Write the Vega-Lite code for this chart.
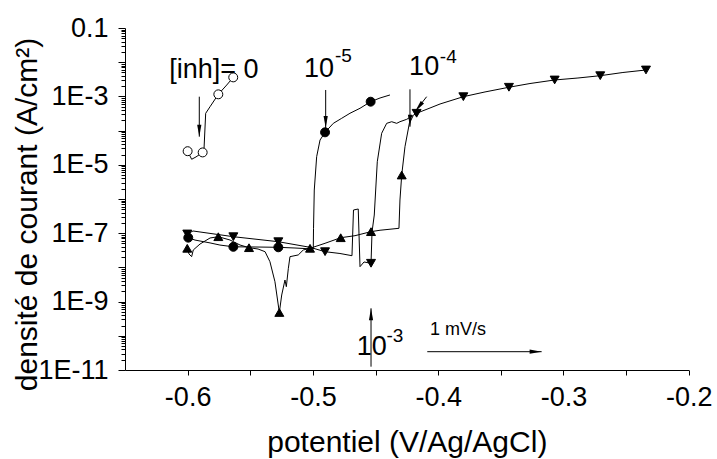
{
  "$schema": "https://vega.github.io/schema/vega-lite/v6.json",
  "width": 563.7,
  "height": 342,
  "autosize": {"type": "none"},
  "padding": {"left": 125, "top": 28, "right": 28.3, "bottom": 89},
  "config": {
    "view": {"stroke": null},
    "font": "Liberation Sans",
    "axis": {"grid": false, "domainColor": "black", "tickColor": "black", "labelColor": "black", "titleColor": "black", "labelFont": "Liberation Sans", "titleFont": "Liberation Sans", "titleFontWeight": "normal", "domainWidth": 1, "tickWidth": 1}
  },
  "datasets": {
    "curves": [
      {"s": "0", "i": 1, "x": -0.6, "y": 2.5e-5, "m": 1},
      {"s": "0", "i": 2, "x": -0.5968, "y": 1.45e-5, "m": 0},
      {"s": "0", "i": 3, "x": -0.5933, "y": 1.7e-5, "m": 0},
      {"s": "0", "i": 4, "x": -0.588, "y": 2.3e-5, "m": 1},
      {"s": "0", "i": 5, "x": -0.5869, "y": 3.0e-5, "m": 0},
      {"s": "0", "i": 6, "x": -0.5856, "y": 3.2e-4, "m": 0},
      {"s": "0", "i": 7, "x": -0.5821, "y": 5.0e-4, "m": 0},
      {"s": "0", "i": 8, "x": -0.5755, "y": 1.15e-3, "m": 1},
      {"s": "0", "i": 9, "x": -0.5688, "y": 2.15e-3, "m": 0},
      {"s": "0", "i": 10, "x": -0.5636, "y": 3.6e-3, "m": 1},

      {"s": "1e-5", "i": 1, "x": -0.5995, "y": 7.4e-8, "m": 1},
      {"s": "1e-5", "i": 2, "x": -0.5941, "y": 6.3e-8, "m": 0},
      {"s": "1e-5", "i": 3, "x": -0.5821, "y": 5.2e-8, "m": 0},
      {"s": "1e-5", "i": 4, "x": -0.5742, "y": 4.5e-8, "m": 0},
      {"s": "1e-5", "i": 5, "x": -0.5635, "y": 4.0e-8, "m": 1},
      {"s": "1e-5", "i": 6, "x": -0.5462, "y": 3.95e-8, "m": 0},
      {"s": "1e-5", "i": 7, "x": -0.5276, "y": 3.87e-8, "m": 1},
      {"s": "1e-5", "i": 8, "x": -0.5143, "y": 3.69e-8, "m": 0},
      {"s": "1e-5", "i": 9, "x": -0.4997, "y": 3.45e-8, "m": 0},
      {"s": "1e-5", "i": 10, "x": -0.4995, "y": 1.39e-7, "m": 0},
      {"s": "1e-5", "i": 11, "x": -0.4989, "y": 1.83e-6, "m": 0},
      {"s": "1e-5", "i": 12, "x": -0.497, "y": 1.73e-5, "m": 0},
      {"s": "1e-5", "i": 13, "x": -0.4943, "y": 5.3e-5, "m": 0},
      {"s": "1e-5", "i": 14, "x": -0.4903, "y": 8.9e-5, "m": 1},
      {"s": "1e-5", "i": 15, "x": -0.4837, "y": 1.63e-4, "m": 0},
      {"s": "1e-5", "i": 16, "x": -0.477, "y": 2.29e-4, "m": 0},
      {"s": "1e-5", "i": 17, "x": -0.4704, "y": 3.21e-4, "m": 0},
      {"s": "1e-5", "i": 18, "x": -0.4624, "y": 4.49e-4, "m": 0},
      {"s": "1e-5", "i": 19, "x": -0.4539, "y": 7.0e-4, "m": 1},
      {"s": "1e-5", "i": 20, "x": -0.4464, "y": 8.98e-4, "m": 0},
      {"s": "1e-5", "i": 21, "x": -0.4385, "y": 1.1e-3, "m": 0},

      {"s": "1e-4", "i": 1, "x": -0.6003, "y": 9.5e-8, "m": 1},
      {"s": "1e-4", "i": 2, "x": -0.5957, "y": 1.16e-7, "m": 0},
      {"s": "1e-4", "i": 3, "x": -0.5635, "y": 7.9e-8, "m": 1},
      {"s": "1e-4", "i": 4, "x": -0.5276, "y": 5.64e-8, "m": 1},
      {"s": "1e-4", "i": 5, "x": -0.5023, "y": 3.87e-8, "m": 0},
      {"s": "1e-4", "i": 6, "x": -0.4903, "y": 2.88e-8, "m": 1},
      {"s": "1e-4", "i": 7, "x": -0.4784, "y": 2.55e-8, "m": 0},
      {"s": "1e-4", "i": 8, "x": -0.4688, "y": 2.2e-8, "m": 0},
      {"s": "1e-4", "i": 9, "x": -0.4676, "y": 4.77e-7, "m": 0},
      {"s": "1e-4", "i": 10, "x": -0.4638, "y": 5.1e-7, "m": 0},
      {"s": "1e-4", "i": 11, "x": -0.4624, "y": 1.05e-8, "m": 0},
      {"s": "1e-4", "i": 12, "x": -0.4592, "y": 1.44e-8, "m": 0},
      {"s": "1e-4", "i": 13, "x": -0.4536, "y": 1.32e-8, "m": 1},
      {"s": "1e-4", "i": 14, "x": -0.4528, "y": 1.08e-7, "m": 0},
      {"s": "1e-4", "i": 15, "x": -0.451, "y": 3.4e-7, "m": 0},
      {"s": "1e-4", "i": 16, "x": -0.4486, "y": 1.23e-5, "m": 0},
      {"s": "1e-4", "i": 17, "x": -0.4451, "y": 8.34e-5, "m": 0},
      {"s": "1e-4", "i": 18, "x": -0.4411, "y": 1.63e-4, "m": 0},
      {"s": "1e-4", "i": 19, "x": -0.4371, "y": 1.82e-4, "m": 0},
      {"s": "1e-4", "i": 20, "x": -0.4331, "y": 1.63e-4, "m": 0},
      {"s": "1e-4", "i": 21, "x": -0.4305, "y": 1.82e-4, "m": 0},
      {"s": "1e-4", "i": 22, "x": -0.4251, "y": 2.14e-4, "m": 0},
      {"s": "1e-4", "i": 23, "x": -0.4172, "y": 3.21e-4, "m": 1},
      {"s": "1e-4", "i": 24, "x": -0.4065, "y": 4.58e-4, "m": 0},
      {"s": "1e-4", "i": 25, "x": -0.3985, "y": 6.0e-4, "m": 0},
      {"s": "1e-4", "i": 26, "x": -0.3799, "y": 9.8e-4, "m": 1},
      {"s": "1e-4", "i": 27, "x": -0.3626, "y": 1.35e-3, "m": 0},
      {"s": "1e-4", "i": 28, "x": -0.3435, "y": 1.85e-3, "m": 1},
      {"s": "1e-4", "i": 29, "x": -0.3267, "y": 2.38e-3, "m": 0},
      {"s": "1e-4", "i": 30, "x": -0.307, "y": 3.02e-3, "m": 1},
      {"s": "1e-4", "i": 31, "x": -0.2884, "y": 3.45e-3, "m": 0},
      {"s": "1e-4", "i": 32, "x": -0.2706, "y": 4.03e-3, "m": 1},
      {"s": "1e-4", "i": 33, "x": -0.2525, "y": 5.0e-3, "m": 0},
      {"s": "1e-4", "i": 34, "x": -0.2341, "y": 5.92e-3, "m": 1},

      {"s": "1e-3", "i": 1, "x": -0.6003, "y": 3.62e-8, "m": 1},
      {"s": "1e-3", "i": 2, "x": -0.5989, "y": 2.47e-8, "m": 0},
      {"s": "1e-3", "i": 3, "x": -0.5968, "y": 2.06e-8, "m": 0},
      {"s": "1e-3", "i": 4, "x": -0.5955, "y": 3.23e-8, "m": 0},
      {"s": "1e-3", "i": 5, "x": -0.5901, "y": 4.83e-8, "m": 0},
      {"s": "1e-3", "i": 6, "x": -0.5821, "y": 7.24e-8, "m": 0},
      {"s": "1e-3", "i": 7, "x": -0.5755, "y": 7.9e-8, "m": 1},
      {"s": "1e-3", "i": 8, "x": -0.5662, "y": 6.33e-8, "m": 0},
      {"s": "1e-3", "i": 9, "x": -0.5582, "y": 4.52e-8, "m": 0},
      {"s": "1e-3", "i": 10, "x": -0.551, "y": 3.77e-8, "m": 1},
      {"s": "1e-3", "i": 11, "x": -0.5438, "y": 3.45e-8, "m": 0},
      {"s": "1e-3", "i": 12, "x": -0.5382, "y": 2.88e-8, "m": 0},
      {"s": "1e-3", "i": 13, "x": -0.5343, "y": 1.47e-8, "m": 0},
      {"s": "1e-3", "i": 14, "x": -0.5303, "y": 3.82e-9, "m": 0},
      {"s": "1e-3", "i": 15, "x": -0.5268, "y": 4.8e-10, "m": 1},
      {"s": "1e-3", "i": 16, "x": -0.5249, "y": 1.56e-9, "m": 0},
      {"s": "1e-3", "i": 17, "x": -0.5223, "y": 4.28e-9, "m": 0},
      {"s": "1e-3", "i": 18, "x": -0.5212, "y": 2.73e-9, "m": 0},
      {"s": "1e-3", "i": 19, "x": -0.5196, "y": 9.4e-9, "m": 0},
      {"s": "1e-3", "i": 20, "x": -0.5183, "y": 2.06e-8, "m": 0},
      {"s": "1e-3", "i": 21, "x": -0.5117, "y": 2.31e-8, "m": 0},
      {"s": "1e-3", "i": 22, "x": -0.5077, "y": 3.23e-8, "m": 0},
      {"s": "1e-3", "i": 23, "x": -0.5023, "y": 3.62e-8, "m": 1},
      {"s": "1e-3", "i": 24, "x": -0.4903, "y": 5.07e-8, "m": 0},
      {"s": "1e-3", "i": 25, "x": -0.4778, "y": 7.38e-8, "m": 1},
      {"s": "1e-3", "i": 26, "x": -0.4664, "y": 8.45e-8, "m": 0},
      {"s": "1e-3", "i": 27, "x": -0.4536, "y": 1.11e-7, "m": 1},
      {"s": "1e-3", "i": 28, "x": -0.4464, "y": 1.22e-7, "m": 0},
      {"s": "1e-3", "i": 29, "x": -0.4313, "y": 1.39e-7, "m": 0},
      {"s": "1e-3", "i": 30, "x": -0.4305, "y": 9.35e-7, "m": 0},
      {"s": "1e-3", "i": 31, "x": -0.4291, "y": 5.03e-6, "m": 1},
      {"s": "1e-3", "i": 32, "x": -0.4265, "y": 3.38e-5, "m": 0},
      {"s": "1e-3", "i": 33, "x": -0.423, "y": 1.63e-4, "m": 0},
      {"s": "1e-3", "i": 34, "x": -0.4201, "y": 2.67e-4, "m": 0}
    ],
    "arrows": [
      {"x": -0.5907, "y": 9.8e-4, "x2": -0.5907, "y2": 6.64e-5, "dir": "down"},
      {"x": -0.4898, "y": 1.54e-3, "x2": -0.4898, "y2": 1.19e-4, "dir": "down"},
      {"x": -0.4225, "y": 1.61e-3, "x2": -0.4225, "y2": 1.3e-4, "dir": "down"},
      {"x": -0.4092, "y": 9.8e-4, "x2": -0.4185, "y2": 3.57e-4, "dir": "downleft"},
      {"x": -0.4536, "y": 1.25e-11, "x2": -0.4536, "y2": 6.37e-10, "dir": "up"},
      {"x": -0.4087, "y": 3.43e-11, "x2": -0.3174, "y2": 3.43e-11, "dir": "right"}
    ],
    "labels": [
      {"t": "[inh]= 0", "x": -0.579, "y": 5.9e-3, "k": "big"},
      {"t": "10", "x": -0.4951, "y": 6.24e-3, "k": "big"},
      {"t": "10", "x": -0.4112, "y": 7.0e-3, "k": "big"},
      {"t": "10", "x": -0.453, "y": 4.8e-11, "k": "big"},
      {"t": "-5", "x": -0.4757, "y": 1.54e-2, "k": "sup"},
      {"t": "-4", "x": -0.3919, "y": 1.45e-2, "k": "sup"},
      {"t": "-3", "x": -0.4345, "y": 1.0e-10, "k": "sup"},
      {"t": "1 mV/s", "x": -0.3842, "y": 1.48e-10, "k": "small"}
    ]
  },
  "resolve": {"axis": {"y": "independent"}, "scale": {"shape": "independent"}},
  "layer": [
    {
      "data": {"name": "curves"},
      "mark": {"type": "line", "color": "black", "strokeWidth": 1},
      "encoding": {
        "x": {
          "field": "x", "type": "quantitative",
          "scale": {"domain": [-0.65, -0.2], "nice": false, "zero": false},
          "axis": {
            "orient": "bottom",
            "values": [-0.6, -0.55, -0.5, -0.45, -0.4, -0.35, -0.3, -0.25, -0.2],
            "labelExpr": "abs(datum.value*10 - round(datum.value*10)) < 0.001 ? (datum.value < 0 ? '-' : '') + format(abs(datum.value), '.1f') : ''",
            "tickSize": 5, "labelFontSize": 27, "labelPadding": 9, "labelFlush": false, "labelOverlap": false,
            "title": "potentiel (V/Ag/AgCl)", "titleFontSize": 30,
            "titleX": 281.8, "titleY": 81, "titleBaseline": "alphabetic", "titleAlign": "center"
          }
        },
        "y": {
          "field": "y", "type": "quantitative",
          "scale": {"type": "log", "domain": [1e-11, 0.1], "nice": false},
          "axis": {
            "orient": "left",
            "values": [1e-11, 1e-10, 1e-9, 1e-8, 1e-7, 1e-6, 1e-5, 1e-4, 1e-3, 1e-2, 0.1],
            "labelExpr": "abs(round(log(datum.value)/LN10)) % 2 == 1 ? (round(log(datum.value)/LN10) == -1 ? '0.1' : '1E' + round(log(datum.value)/LN10)) : ''",
            "tickSize": 7, "labelFontSize": 27, "labelPadding": 10, "labelFlush": false, "labelOverlap": false,
            "labelBaseline": "middle",
            "title": "densité de courant (A/cm²)", "titleFontSize": 30,
            "titleX": -97.5, "titleY": 186, "titleAngle": -90, "titleBaseline": "middle", "titleAlign": "center"
          }
        },
        "detail": {"field": "s", "type": "nominal"},
        "order": {"field": "i", "type": "quantitative"}
      }
    },
    {
      "data": {"name": "curves"},
      "transform": [{"filter": "datum.m == 1"}],
      "mark": {"type": "point", "filled": true, "stroke": "black", "strokeWidth": 1, "opacity": 1, "size": 80},
      "encoding": {
        "x": {"field": "x", "type": "quantitative"},
        "y": {
          "field": "y", "type": "quantitative",
          "axis": {
            "orient": "left", "labels": false, "domain": false, "tickSize": 4, "title": null,
            "values": [2e-11,3e-11,4e-11,5e-11,6e-11,7e-11,8e-11,9e-11,2e-10,3e-10,4e-10,5e-10,6e-10,7e-10,8e-10,9e-10,2e-9,3e-9,4e-9,5e-9,6e-9,7e-9,8e-9,9e-9,2e-8,3e-8,4e-8,5e-8,6e-8,7e-8,8e-8,9e-8,2e-7,3e-7,4e-7,5e-7,6e-7,7e-7,8e-7,9e-7,2e-6,3e-6,4e-6,5e-6,6e-6,7e-6,8e-6,9e-6,2e-5,3e-5,4e-5,5e-5,6e-5,7e-5,8e-5,9e-5,2e-4,3e-4,4e-4,5e-4,6e-4,7e-4,8e-4,9e-4,2e-3,3e-3,4e-3,5e-3,6e-3,7e-3,8e-3,9e-3,2e-2,3e-2,4e-2,5e-2,6e-2,7e-2,8e-2,9e-2]
          }
        },
        "shape": {"field": "s", "type": "nominal", "scale": {"domain": ["0", "1e-5", "1e-4", "1e-3"], "range": ["circle", "circle", "triangle-down", "triangle-up"]}, "legend": null},
        "fill": {"field": "s", "type": "nominal", "scale": {"domain": ["0", "1e-5", "1e-4", "1e-3"], "range": ["white", "black", "black", "black"]}, "legend": null}
      }
    },
    {
      "data": {"name": "arrows"},
      "mark": {"type": "rule", "color": "black", "strokeWidth": 1},
      "encoding": {
        "x": {"field": "x", "type": "quantitative"},
        "y": {"field": "y", "type": "quantitative", "axis": null},
        "x2": {"field": "x2"},
        "y2": {"field": "y2"}
      }
    },
    {
      "data": {"name": "arrows"},
      "mark": {"type": "point", "filled": true, "color": "black", "opacity": 1, "size": 144},
      "encoding": {
        "x": {"field": "x2", "type": "quantitative"},
        "y": {"field": "y2", "type": "quantitative", "axis": null},
        "shape": {"field": "dir", "type": "nominal", "scale": {"domain": ["down", "up", "right", "downleft"], "range": ["M0,0L-0.35,-2L0.35,-2Z", "M0,0L-0.35,2L0.35,2Z", "M0,0L-2,-0.35L-2,0.35Z", "M0,0L1.508,-1.36L0.956,-1.792Z"]}, "legend": null}
      }
    },
    {
      "data": {"name": "labels"},
      "transform": [{"filter": "datum.k == 'big'"}],
      "mark": {"type": "text", "fontSize": 27, "font": "Liberation Sans", "color": "black", "align": "center", "baseline": "middle"},
      "encoding": {
        "x": {"field": "x", "type": "quantitative"},
        "y": {"field": "y", "type": "quantitative", "axis": null},
        "text": {"field": "t"}
      }
    },
    {
      "data": {"name": "labels"},
      "transform": [{"filter": "datum.k == 'sup'"}],
      "mark": {"type": "text", "fontSize": 19, "font": "Liberation Sans", "color": "black", "align": "center", "baseline": "middle"},
      "encoding": {
        "x": {"field": "x", "type": "quantitative"},
        "y": {"field": "y", "type": "quantitative", "axis": null},
        "text": {"field": "t"}
      }
    },
    {
      "data": {"name": "labels"},
      "transform": [{"filter": "datum.k == 'small'"}],
      "mark": {"type": "text", "fontSize": 18, "font": "Liberation Sans", "color": "black", "align": "center", "baseline": "middle"},
      "encoding": {
        "x": {"field": "x", "type": "quantitative"},
        "y": {"field": "y", "type": "quantitative", "axis": null},
        "text": {"field": "t"}
      }
    }
  ]
}
